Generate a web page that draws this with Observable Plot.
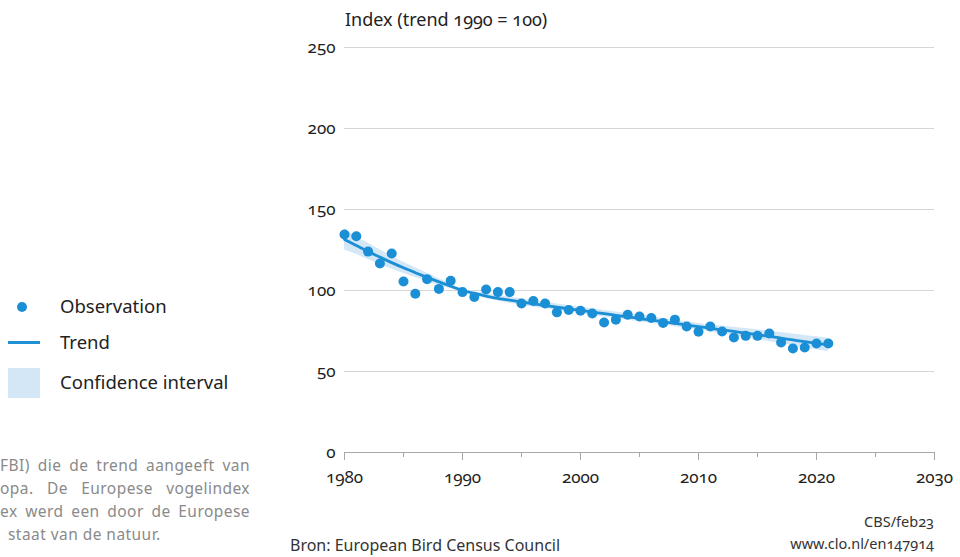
<!DOCTYPE html>
<html>
<head>
<meta charset="utf-8">
<script src="https://cdn.jsdelivr.net/npm/d3@7"></script>
<script src="https://cdn.jsdelivr.net/npm/@observablehq/plot@0.6"></script>
<style>
  html, body { margin: 0; padding: 0; background: #fff; }
  body { width: 960px; height: 557px; position: relative; overflow: hidden;
         font-family: "Noto Sans", "Open Sans", sans-serif; color: #222;
         font-variant-numeric: oldstyle-nums; }
  #chart { position: absolute; left: 280px; top: 0; }
  #chart svg, #chart svg text { font-variant-numeric: oldstyle-nums !important; }
  .title { position: absolute; left: 345px; top: 7px; font-size: 18px; color: #222; }
  .legend { position: absolute; left: 0; top: 0; font-size: 18.5px; color: #222; }
  .legend .row { position: absolute; left: 60px; white-space: nowrap; line-height: 20px; }
  .legend .dot { position: absolute; left: 17px; top: 302px; width: 10px; height: 10px; border-radius: 50%; background: #1b8fd6; }
  .legend .line { position: absolute; left: 8px; top: 341px; width: 32px; height: 3px; background: #1f90d6; }
  .legend .box { position: absolute; left: 8px; top: 368px; width: 32px; height: 30px; background: #d4e7f7; }
  .note { position: absolute; left: 0; top: 454px; width: 250px; font-size: 15.5px; letter-spacing: 0.45px; line-height: 23px; color: #8a8a8a; }
  .note div { text-align: justify; text-align-last: justify; white-space: nowrap; }
  .note div.last { text-align-last: left; padding-left: 8px; }
  .source { position: absolute; left: 290px; top: 534px; font-size: 16px; color: #333; white-space: nowrap; }
  .credit { position: absolute; right: 26px; top: 510px; font-size: 14.5px; line-height: 22px; color: #333; text-align: right; }
</style>
</head>
<body>
<div class="title">Index (trend 1990 = 100)</div>
<div id="chart"></div>

<div class="legend">
  <div class="dot"></div><div class="row" style="top:296px">Observation</div>
  <div class="line"></div><div class="row" style="top:332px">Trend</div>
  <div class="box"></div><div class="row" style="top:372px">Confidence interval</div>
</div>

<div class="note">
  <div>FBI) die de trend aangeeft van</div>
  <div>opa. De Europese vogelindex</div>
  <div>ex werd een door de Europese</div>
  <div class="last">staat van de natuur.</div>
</div>

<div class="source">Bron: European Bird Census Council</div>
<div class="credit">CBS/feb23<br>www.clo.nl/en147914</div>

<script>
// Farmland bird index, Europe (trend 1990 = 100)
const years = [1980,1981,1982,1983,1984,1985,1986,1987,1988,1989,
               1990,1991,1992,1993,1994,1995,1996,1997,1998,1999,
               2000,2001,2002,2003,2004,2005,2006,2007,2008,2009,
               2010,2011,2012,2013,2014,2015,2016,2017,2018,2019,
               2020,2021];

const observation = [134.6,133.5,124,116.7,122.8,105.6,98,107,101,106,
                     99,96,100.6,99,99,92,93.5,92,86.5,88,
                     87.5,85.8,80.2,82,85,84,83,80,82,77.8,
                     74.5,77.8,74.7,71,72,72,73.5,67.9,64.2,64.8,
                     67.3,67.3];

const trend = [131.5,127.8,124.1,120.6,117.2,114,111,108.1,105.3,102.6,
               100,98.2,96.6,95.2,94,92.9,91.8,90.7,89.7,88.7,
               87.7,86.7,85.7,84.7,83.7,82.7,81.7,80.7,79.7,78.7,
               77.7,76.7,75.7,74.7,73.7,72.7,71.7,70.6,69.5,68.4,
               67.4,66.4];

const ciLow = [125,122.3,119.1,116.1,113.2,110.5,108,105.6,103.3,101.1,
               99,97,95.1,93.5,92.1,90.9,89.8,88.7,87.7,86.7,
               85.7,84.7,83.7,82.7,81.7,80.7,79.7,78.7,77.7,76.7,
               75.7,74.5,73.3,72.1,70.9,69.7,68.5,67.2,65.9,64.6,
               63.4,62.2];

const ciHigh = [138,133.3,129.1,125.1,121.2,117.5,114,110.6,107.3,104.1,
                101,99.4,98.1,96.9,95.9,94.9,93.8,92.7,91.7,90.7,
                89.7,88.7,87.7,86.7,85.7,84.7,83.7,82.7,81.7,80.7,
                79.7,78.9,78.1,77.3,76.5,75.7,74.9,74,73.1,72.2,
                71.4,70.6];

const yTicks = [0, 50, 100, 150, 200, 250];
const xLabels = [1980, 1990, 2000, 2010, 2020, 2030];
const xMinor = [1985, 1995, 2005, 2015, 2025];

const rows = years.map((year, i) => ({
  year, obs: observation[i], trend: trend[i], lo: ciLow[i], hi: ciHigh[i]
}));

const blue = "#1b8fd6";

const chart = Plot.plot({
  width: 680,
  height: 500,
  marginLeft: 64,
  marginRight: 26,
  marginTop: 47,
  marginBottom: 48,
  style: { fontFamily: "'Noto Sans', 'Open Sans', sans-serif", fontSize: "17px", color: "#222" },
  x: { domain: [1980, 2030] },
  y: { domain: [0, 250] },
  marks: [
    Plot.gridY(yTicks.filter(d => d > 0), { stroke: "#d6d6d6", strokeOpacity: 1, strokeWidth: 1 }),
    Plot.ruleY([0], { stroke: "#a8a8a8", strokeWidth: 1 }),
    Plot.axisX({ ticks: xLabels, tickSize: 8, tickPadding: 10, tickFormat: d => String(d), stroke: "#a8a8a8", label: null, fontSize: 17 }),
    Plot.axisX({ ticks: xMinor, tickSize: 5, tickFormat: () => "", stroke: "#a8a8a8", label: null }),
    Plot.axisY({ ticks: yTicks, tickSize: 0, tickPadding: 9, label: null, fontSize: 17 }),
    Plot.areaY(rows, { x: "year", y1: "lo", y2: "hi", fill: "#cfe4f6", fillOpacity: 0.9, curve: "monotone-x" }),
    Plot.lineY(rows, { x: "year", y: "trend", stroke: blue, strokeWidth: 2.8, curve: "monotone-x" }),
    Plot.dot(rows, { x: "year", y: "obs", r: 5, fill: blue, stroke: "none" })
  ]
});

document.getElementById("chart").appendChild(chart);
</script>
</body>
</html>
